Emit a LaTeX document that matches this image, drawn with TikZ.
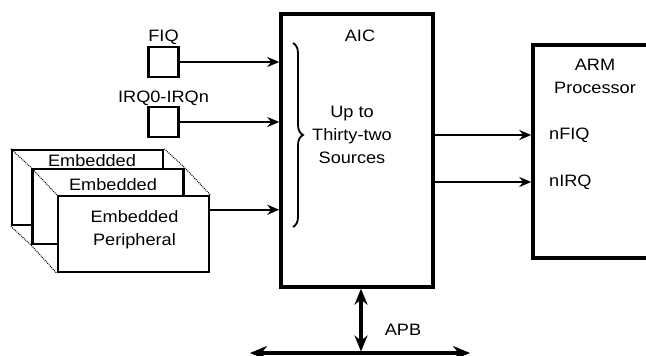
\documentclass[tikz,border=0pt]{standalone}
\usepackage{fontspec}
\setmainfont{Liberation Sans}[FakeStretch=1.1]
\usetikzlibrary{arrows.meta}
\usetikzlibrary{decorations.pathreplacing}

\begin{document}
\begin{tikzpicture}[x=1pt,y=-1pt,
    blk/.style={draw,line width=3.5pt,fill=white,inner sep=0pt},
    srcbox/.style={draw,line width=2.5pt,fill=white,inner sep=0pt,minimum size=30pt},
    perbox/.style={draw,line width=2.5pt,fill=white,inner sep=0pt,minimum width=151pt,minimum height=75pt},
    lbl/.style={inner sep=0pt,align=center,font=\fontsize{16.5}{23}\selectfont},
    sig/.style={line width=2.3pt,-{Stealth[length=12pt,width=10pt]}},
    apbarrow/.style={line width=3.5pt,shorten >=1.5pt,{Stealth[length=16pt,width=13pt]}-{Stealth[length=16pt,width=13pt]}},
    busarrow/.style={line width=4pt,{Stealth[length=17pt,width=14pt]}-{Stealth[length=17pt,width=14pt]}},
    dots/.style={densely dotted,line width=1pt}]

                            \useasboundingbox (0,0) rectangle (646,356);
                            \clip (0,0) rectangle (646,356);
                            % blocks
                            \node[blk,minimum width=152pt,minimum height=273pt] (aic) at (357,150.5) {};
                            \node[blk,minimum width=190pt,minimum height=213pt] (arm) at (628,151.5) {};
                            \node[lbl] (aiclbl) at (360,36) {AIC};
                            \node[lbl] (armlbl) at (595,76) {ARM\\Processor};
                            \node[lbl] (srclbl) at (352,135) {Up to\\Thirty-two\\Sources};
                            \draw[line width=1.8pt,decorate,decoration={brace,amplitude=10pt}] (293,43) -- (293,227);
                            % sources
                            \node[srcbox] (fiq) at (163.5,62) {};
                            \node[lbl] (fiqlbl) at (163.5,37) {FIQ};
                            \node[srcbox] (irq) at (163.5,122) {};
                            \node[lbl] (irqlbl) at (163.5,98) {IRQ0-IRQn};
                            \node[perbox] (per3) at (87.5,187.5) {};
                            \node[lbl] (per3lbl) at (92,161) {Embedded};
                            \node[perbox] (per2) at (108,206.5) {};
                            \node[lbl] (per2lbl) at (113,185) {Embedded};
                            \node[perbox,minimum height=76pt] (per1) at (133.5,234) {};
                            \node[lbl] (per1lbl) at (134.5,230) {Embedded\\Peripheral};
                            \draw[dots] (per3.north west) -- (per2.north west) -- (per1.north west);
                            \draw[dots] (per3.north east) -- (per2.north east) -- (per1.north east);
                            \draw[dots] (per3.south west) -- (per2.south west) -- (per1.south west);
                            % inputs
                            \coordinate (perout) at ([yshift=-15pt]per1.north east);
                            \draw[sig] (fiq) -- (fiq -| aic.west);
                            \draw[sig] (irq) -- (irq -| aic.west);
                            \draw[sig] (perout) -- (perout -| aic.west);
                            % outputs
                            \node[lbl,anchor=west] (nfiq) at (549,135) {nFIQ};
                            \node[lbl,anchor=west] (nirq) at (549,182) {nIRQ};
                            \draw[sig] (aic.east |- nfiq) -- (arm.west |- nfiq);
                            \draw[sig] (aic.east |- nirq) -- (arm.west |- nirq);
                            % APB
                            \coordinate (busl) at (250,353);
                            \coordinate (busr) at (470,353);
                            \coordinate (apbtop) at ([xshift=4pt]aic.south);
                            \draw[busarrow] (busl) -- (busr);
                            \draw[apbarrow] (apbtop) -- (apbtop |- busl);
                            \node[lbl] (apb) at (403,330) {APB};
                        \end{tikzpicture}
\end{document}
